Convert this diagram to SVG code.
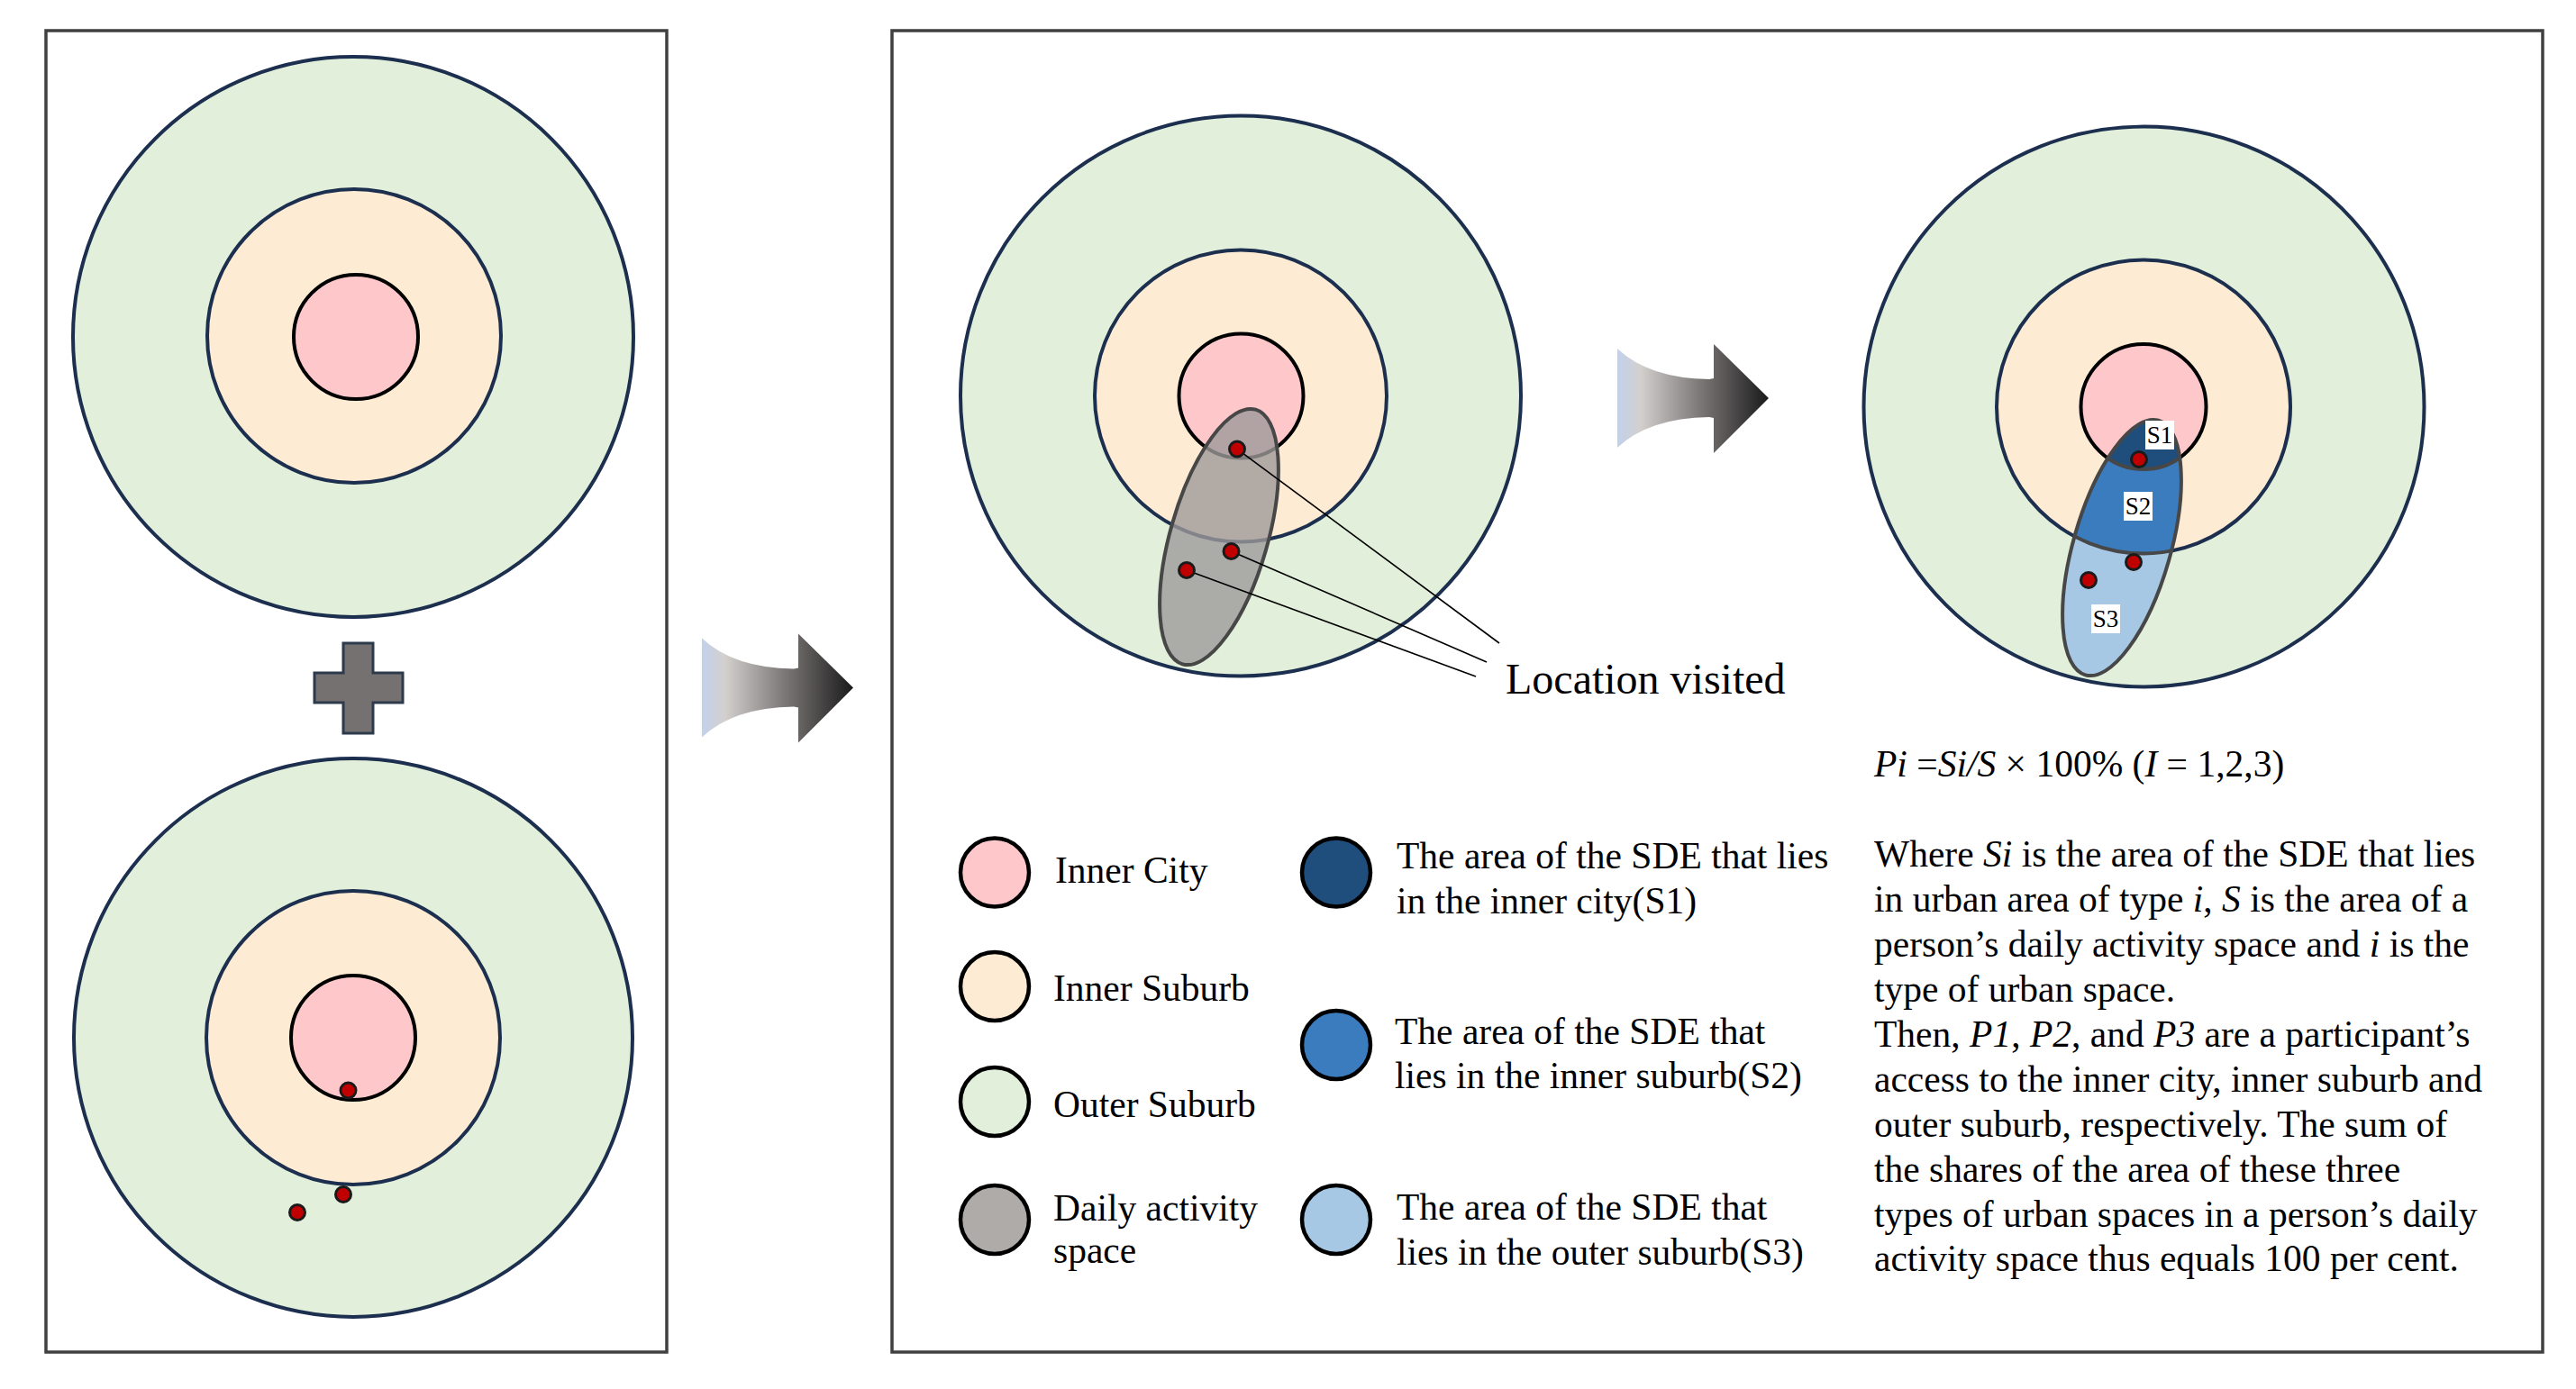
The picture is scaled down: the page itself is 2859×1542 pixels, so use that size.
<svg xmlns="http://www.w3.org/2000/svg" width="2859" height="1542" viewBox="0 0 2859 1542">
<style>
.os{fill:#e2efda;stroke:#1c2f4f;stroke-width:4}
.is{fill:#fdebd3;stroke:#1c2f4f;stroke-width:4}
.ic{fill:#fec8cb;stroke:#000;stroke-width:4}
.dot{fill:#c00000;stroke:#1a1a1a;stroke-width:3}
.panel{fill:none;stroke:#404040;stroke-width:3.5}
.t{font-family:"Liberation Serif","Times New Roman",serif;font-size:41.5px;fill:#000}
.big{font-size:48px}
.lg{stroke:#000;stroke-width:4.5}
.lead{stroke:#000;stroke-width:1.6;fill:none}
.sbox{fill:#fff}
.st{font-family:"Liberation Serif","Times New Roman",serif;font-size:27px;fill:#000;text-anchor:middle}
.arr{fill:url(#arrGrad)}
.it{font-style:italic}
</style>
<defs>
<linearGradient id="arrGrad" x1="0" y1="0" x2="1" y2="0">
<stop offset="0" stop-color="#c2d1ec"/>
<stop offset="0.15" stop-color="#d3d0ce"/>
<stop offset="0.55" stop-color="#7c7777"/>
<stop offset="1" stop-color="#1a1a1a"/>
</linearGradient>
<clipPath id="sdeClip"><ellipse cx="2355" cy="608" rx="54" ry="147" transform="rotate(16 2355 608)"/></clipPath>
</defs>
<rect width="2859" height="1542" fill="#fff"/>

<g id="panel-left">
<rect class="panel" x="51" y="34" width="689" height="1467"/>
</g>
<g id="panel-middle">
<rect class="panel" x="990" y="34" width="1832" height="1467"/>
</g>

<g id="city-top">
<circle class="os" cx="392" cy="374" r="311"/>
<circle class="is" cx="393" cy="373" r="163"/>
<circle class="ic" cx="395" cy="374" r="69"/>
</g>

<g id="plus">
<path d="M381,714 H414 V747 H447 V780 H414 V814 H381 V780 H349 V747 H381 Z" fill="#767171" stroke="#2d3a4b" stroke-width="3"/>
</g>

<g id="city-bottom">
<circle class="os" cx="392" cy="1152" r="310"/>
<circle class="is" cx="392" cy="1152" r="163"/>
<circle class="ic" cx="392" cy="1152" r="69"/>
<circle class="dot" cx="386.5" cy="1210.5" r="8.5"/>
<circle class="dot" cx="381" cy="1326" r="8.5"/>
<circle class="dot" cx="330" cy="1346" r="8.5"/>
</g>

<g id="city-middle">
<circle class="os" cx="1377" cy="439.5" r="311"/>
<circle class="is" cx="1377" cy="439.5" r="162"/>
<circle class="ic" cx="1377.5" cy="439.5" r="69"/>
<ellipse cx="1353" cy="596" rx="54" ry="147" transform="rotate(16 1353 596)" fill="#9e9a9a" fill-opacity="0.8" stroke="#474747" stroke-width="4"/>
</g>

<g id="city-right">
<circle class="os" cx="2379.5" cy="451.5" r="311"/>
<circle class="is" cx="2379" cy="451.5" r="163"/>
<circle class="ic" cx="2379" cy="451.5" r="69.5"/>
<g clip-path="url(#sdeClip)">
<rect x="2270" y="440" width="170" height="330" fill="#a6c8e5"/>
<circle cx="2379" cy="451.5" r="163" fill="#3b7cbf" stroke="#474747" stroke-width="4"/>
<circle cx="2379" cy="451.5" r="69.5" fill="#1f4e7c" stroke="#474747" stroke-width="4"/>
</g>
<ellipse cx="2355" cy="608" rx="54" ry="147" transform="rotate(16 2355 608)" fill="none" stroke="#474747" stroke-width="4"/>
<rect class="sbox" x="2381" y="467" width="32" height="32"/>
<text class="st" x="2397" y="492">S1</text>
<rect class="sbox" x="2357" y="546" width="32" height="32"/>
<text class="st" x="2373" y="571">S2</text>
<rect class="sbox" x="2321" y="671" width="32" height="32"/>
<text class="st" x="2337" y="696">S3</text>
<circle class="dot" cx="2374" cy="510" r="8.5"/>
<circle class="dot" cx="2368" cy="624" r="8.5"/>
<circle class="dot" cx="2318" cy="644" r="8.5"/>
</g>

<g id="connectors">
<path class="arr" d="M779,708.5 Q814,741.5 881,742.5 L886,741.5 L886,703.5 L947,763.5 L886,824.5 L886,785.5 L881,784.5 Q814,785.5 779,818.5 Z"/>
<path class="arr" d="M1795,387 Q1830,420 1897,421 L1902,420 L1902,382 L1963,442 L1902,503 L1902,464 L1897,463 Q1830,464 1795,497 Z"/>
<line class="lead" x1="1373" y1="498.5" x2="1664" y2="714"/>
<line class="lead" x1="1366.5" y1="612" x2="1650" y2="735"/>
<line class="lead" x1="1317" y1="633" x2="1638" y2="751"/>
</g>

<g id="visited-dots">
<circle class="dot" cx="1373" cy="498.5" r="8.5"/>
<circle class="dot" cx="1366.5" cy="612" r="8.5"/>
<circle class="dot" cx="1317" cy="633" r="8.5"/>
<text class="t big" x="1671" y="770">Location visited</text>
</g>

<g id="legend-inner-city">
<circle class="lg" cx="1104" cy="968.5" r="38" fill="#fec8cb"/>
<text class="t" x="1171" y="980">Inner City</text>
</g>
<g id="legend-inner-suburb">
<circle class="lg" cx="1104" cy="1095" r="38" fill="#fdebd3"/>
<text class="t" x="1169" y="1111">Inner Suburb</text>
</g>
<g id="legend-outer-suburb">
<circle class="lg" cx="1104" cy="1223" r="38" fill="#e2efda"/>
<text class="t" x="1169" y="1240">Outer Suburb</text>
</g>
<g id="legend-daily">
<circle class="lg" cx="1104" cy="1354" r="38" fill="#afaba9"/>
<text class="t" x="1169" y="1355">Daily activity</text>
<text class="t" x="1169" y="1402">space</text>
</g>
<g id="legend-s1">
<circle class="lg" cx="1483" cy="968.5" r="38" fill="#1f4e7c"/>
<text class="t" x="1550" y="964">The area of the SDE that lies</text>
<text class="t" x="1550" y="1014">in the inner city(S1)</text>
</g>
<g id="legend-s2">
<circle class="lg" cx="1483" cy="1160" r="38" fill="#3b7cbf"/>
<text class="t" x="1548" y="1159">The area of the SDE that</text>
<text class="t" x="1548" y="1208">lies in the inner suburb(S2)</text>
</g>
<g id="legend-s3">
<circle class="lg" cx="1483" cy="1354" r="38" fill="#a6c8e5"/>
<text class="t" x="1550" y="1354">The area of the SDE that</text>
<text class="t" x="1550" y="1404">lies in the outer suburb(S3)</text>
</g>

<g id="formula">
<text class="t" x="2080" y="862"><tspan class="it">Pi</tspan> =<tspan class="it">Si/S</tspan> × 100% (<tspan class="it">I</tspan> = 1,2,3)</text>
</g>
<g id="explanation">
<text class="t" x="2080" y="962">Where <tspan class="it">Si</tspan> is the area of the SDE that lies</text>
<text class="t" x="2080" y="1012">in urban area of type <tspan class="it">i</tspan>, <tspan class="it">S</tspan> is the area of a</text>
<text class="t" x="2080" y="1062">person’s daily activity space and <tspan class="it">i</tspan> is the</text>
<text class="t" x="2080" y="1112">type of urban space.</text>
<text class="t" x="2080" y="1162">Then, <tspan class="it">P1</tspan>, <tspan class="it">P2</tspan>, and <tspan class="it">P3</tspan> are a participant’s</text>
<text class="t" x="2080" y="1212">access to the inner city, inner suburb and</text>
<text class="t" x="2080" y="1262">outer suburb, respectively. The sum of</text>
<text class="t" x="2080" y="1312">the shares of the area of these three</text>
<text class="t" x="2080" y="1362">types of urban spaces in a person’s daily</text>
<text class="t" x="2080" y="1411">activity space thus equals 100 per cent.</text>
</g>
</svg>
